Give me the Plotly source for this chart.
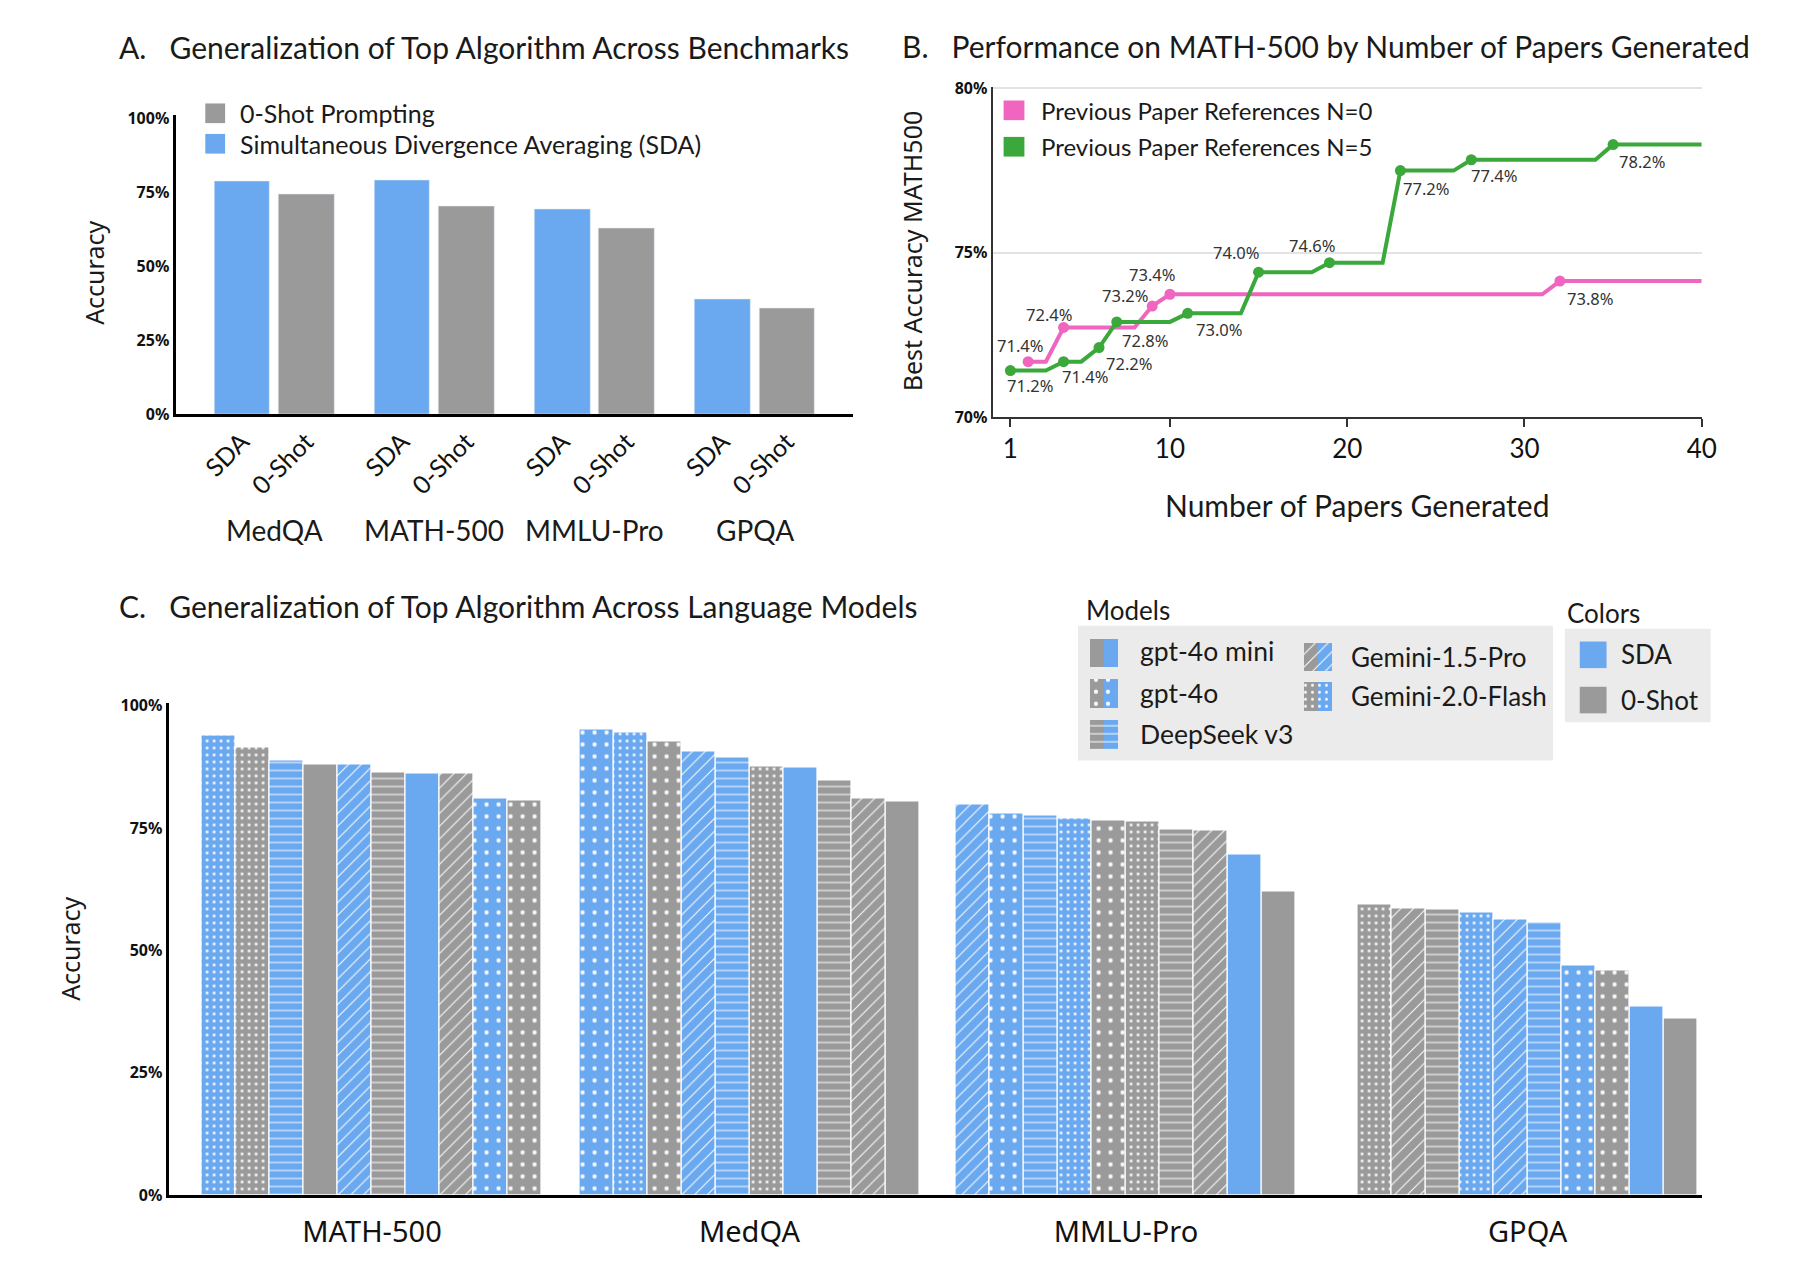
"""Three-panel figure: SDA vs 0-shot across benchmarks, papers generated, and language models."""

import plotly.graph_objects as go

W, H = 1804, 1288

BLUE = "#6aa8ef"
GRAY = "#9a9a9a"
PINK = "#f065bf"
GREEN = "#3aa83a"
MYRIAD = "Lato"
AVENIR = "Noto Sans"

# ---- Panel A: top algorithm across benchmarks
a_benchmarks = ["MedQA", "MATH-500", "MMLU-Pro", "GPQA"]
a_sda = [78.7, 78.9, 69.3, 38.8]
a_zero_shot = [74.4, 70.1, 63.0, 35.7]

# ---- Panel B: best MATH-500 accuracy after n papers
papers = list(range(1, 41))
best_n0 = [None, 71.69, 71.69, 72.73, 72.73, 72.73, 72.73, 72.73, 73.38, 73.74,
           73.74, 73.74, 73.74, 73.74, 73.74, 73.74, 73.74, 73.74, 73.74, 73.74,
           73.74, 73.74, 73.74, 73.74, 73.74, 73.74, 73.74, 73.74, 73.74, 73.74,
           73.74, 74.14, 74.14, 74.14, 74.14, 74.14, 74.14, 74.14, 74.14, 74.14]
best_n5 = [71.42, 71.42, 71.42, 71.69, 71.69, 72.12, 72.90, 72.90, 72.90, 72.90,
           73.16, 73.16, 73.16, 73.16, 74.41, 74.41, 74.41, 74.41, 74.70, 74.70,
           74.70, 74.70, 77.50, 77.50, 77.50, 77.50, 77.83, 77.83, 77.83, 77.83,
           77.83, 77.83, 77.83, 77.83, 78.29, 78.29, 78.29, 78.29, 78.29, 78.29]
labels_n0 = ["71.4%", "72.4%", "73.2%", "73.4%", "73.8%"]
labels_n5 = ["71.2%", "71.4%", "72.2%", "72.8%", "73.0%",
             "74.0%", "74.6%", "77.2%", "77.4%", "78.2%"]

# ---- Panel C: across language models (benchmark order below)
c_benchmarks = ["MATH-500", "MedQA", "MMLU-Pro", "GPQA"]
models = ["gpt-4o mini", "gpt-4o", "DeepSeek v3", "Gemini-1.5-Pro", "Gemini-2.0-Flash"]
sda_gpt4o_mini = [86.2, 87.4, 69.6, 38.6]
sda_gpt4o = [81.0, 95.1, 77.9, 47.0]
sda_deepseek = [88.8, 89.3, 77.5, 55.6]
sda_gemini15 = [87.9, 90.6, 79.7, 56.3]
sda_gemini20 = [93.9, 94.5, 77.0, 57.7]
zero_gpt4o_mini = [88.0, 80.3, 62.0, 36.1]
zero_gpt4o = [80.6, 92.7, 76.6, 45.8]
zero_deepseek = [86.3, 84.7, 74.6, 58.4]
zero_gemini15 = [86.1, 81.1, 74.5, 58.5]
zero_gemini20 = [91.5, 87.5, 76.4, 59.4]


def fx(p):
    return p / W


def fy(p):
    return 1 - p / H


PATTERNS = {
    "gpt-4o mini": dict(shape=""),
    "gpt-4o": dict(shape=".", size=12, solidity=0.1),
    "DeepSeek v3": dict(shape="-", size=8, solidity=0.13),
    "Gemini-1.5-Pro": dict(shape="/", size=9, solidity=0.12),
    "Gemini-2.0-Flash": dict(shape=".", size=7, solidity=0.14),
}


def pattern(model):
    p = dict(PATTERNS[model])
    if p["shape"]:
        p.update(fgcolor="white", fgopacity=0.95, fillmode="overlay")
    return p


fig = go.Figure()
annotations = []
shapes = []

# ---------------- Panel A
a_stride, a_offset = 2.884, 1.16
a_pos_sda = [i * a_stride for i in range(len(a_benchmarks))]
a_pos_zero = [i * a_stride + a_offset for i in range(len(a_benchmarks))]
fig.add_trace(go.Bar(x=a_pos_sda, y=a_sda, width=1, marker_color=BLUE,
                     xaxis="x", yaxis="y", showlegend=False))
fig.add_trace(go.Bar(x=a_pos_zero, y=a_zero_shot, width=1, marker_color=GRAY,
                     xaxis="x", yaxis="y", showlegend=False))

# ---------------- Panel B
for best, color in [(best_n0, PINK), (best_n5, GREEN)]:
    fig.add_trace(go.Scatter(x=papers, y=best, mode="lines", connectgaps=False,
                             line=dict(color=color, width=4),
                             xaxis="x2", yaxis="y2", showlegend=False))

# label offsets (px) from each improvement point
offsets_n0 = [(-8, 16), (-15, 13), (-27, 11), (-18, 20), (30, -17)]
offsets_n5 = [(20, -15), (21, -15), (30, -16), (28, -19), (31, -16),
              (-23, 20), (-17, 17), (26, -18), (23, -16), (29, -17)]

for best, color, labels, offs in [(best_n0, PINK, labels_n0, offsets_n0),
                                  (best_n5, GREEN, labels_n5, offsets_n5)]:
    px_, py_ = [], []
    prev = None
    for n, v in zip(papers, best):
        if v is not None and v != prev:
            px_.append(n)
            py_.append(v)
        prev = v
    fig.add_trace(go.Scatter(x=px_, y=py_, mode="markers",
                             marker=dict(color=color, size=11),
                             xaxis="x2", yaxis="y2", showlegend=False))
    for x, y, lab, (dx, dy) in zip(px_, py_, labels, offs):
        annotations.append(dict(x=x, y=y, xref="x2", yref="y2", text=lab,
                                showarrow=False, xshift=dx, yshift=dy,
                                font=dict(family=AVENIR, size=16.5, color="#333")))

# ---------------- Panel C
sda_vals = [sda_gpt4o_mini, sda_gpt4o, sda_deepseek, sda_gemini15, sda_gemini20]
zero_vals = [zero_gpt4o_mini, zero_gpt4o, zero_deepseek, zero_gemini15, zero_gemini20]
group_left = [0.0, 11.1, 22.17, 33.98]

bars = {}  # (model, method) -> ([x], [y])
for g, bench in enumerate(c_benchmarks):
    entries = []
    for m, model in enumerate(models):
        entries.append((sda_vals[m][g], model, "SDA"))
        entries.append((zero_vals[m][g], model, "0-Shot"))
    entries.sort(key=lambda e: -e[0])
    for rank, (val, model, method) in enumerate(entries):
        xs, ys = bars.setdefault((model, method), ([], []))
        xs.append(group_left[g] + 0.5 + rank)
        ys.append(val)

for (model, method), (xs, ys) in bars.items():
    fig.add_trace(go.Bar(
        x=xs, y=ys, width=1,
        marker=dict(color=BLUE if method == "SDA" else GRAY,
                    line=dict(color="white", width=1.2),
                    pattern=pattern(model)),
        xaxis="x3", yaxis="y3", showlegend=False))

# model legend swatches (half 0-Shot gray, half SDA blue) on a small pixel-unit axis
swatch_slots = {
    "gpt-4o mini": (26, 13), "gpt-4o": (26, 54), "DeepSeek v3": (26, 96),
    "Gemini-1.5-Pro": (242, 17), "Gemini-2.0-Flash": (242, 57),
}
for model, (cx, top) in swatch_slots.items():
    for dx, color in [(-7, GRAY), (7, BLUE)]:
        fig.add_trace(go.Bar(
            x=[cx + dx], y=[29], base=[top], width=14,
            marker=dict(color=color, line=dict(width=0), pattern=pattern(model)),
            xaxis="x4", yaxis="y4", showlegend=False))


# ---------------- shapes & annotations
def rect(x0, y0, x1, y1, color):
    shapes.append(dict(type="rect", xref="paper", yref="paper",
                       x0=fx(x0), x1=fx(x1), y0=fy(y1), y1=fy(y0),
                       fillcolor=color, line=dict(width=0), layer="below"))


def text(x, y, s, size, family=MYRIAD, xanchor="left", angle=0, color="#1a1a1a"):
    annotations.append(dict(x=fx(x), y=fy(y), xref="paper", yref="paper", text=s,
                            showarrow=False, xanchor=xanchor, yanchor="middle",
                            textangle=angle,
                            font=dict(family=family, size=size, color=color)))


sp = "\u00a0\u00a0\u00a0"
text(118, 38, "A." + sp + "Generalization of Top Algorithm Across Benchmarks", 30)
text(908, 37, "B." + sp + "Performance on MATH-500 by Number of Papers Generated", 30)
text(118, 606, "C." + sp + "Generalization of Top Algorithm Across Language Models", 30)

# axis titles
text(94, 267, "Accuracy", 25, AVENIR, "center", -90)
text(920, 245, "Best Accuracy MATH500", 25, AVENIR, "center", -90)
text(1368, 503, "Number of Papers Generated", 30, MYRIAD, "center")
text(71, 954, "Accuracy", 25, AVENIR, "center", -90)

# panel A legend
rect(207, 95, 227, 115, GRAY)
rect(207, 126, 227, 146, BLUE)
text(240, 105, "0-Shot Prompting", 25)
text(240, 136, "Simultaneous Divergence Averaging (SDA)", 25)

# panel A group labels
for i, bench in enumerate(a_benchmarks):
    annotations.append(dict(x=i * a_stride + a_offset / 2, y=fy(529), xref="x", yref="paper",
                            text=bench, showarrow=False, yanchor="middle",
                            font=dict(family=MYRIAD, size=28, color="#1a1a1a")))

# panel B legend
rect(1012, 92, 1033, 112, PINK)
rect(1012, 129, 1033, 149, GREEN)
text(1048, 102, "Previous Paper References N=0", 24)
text(1048, 139, "Previous Paper References N=5", 24)

# panel C legends
rect(1087, 626, 1566, 763, "#ebebeb")
rect(1578, 629, 1725, 724, "#ebebeb")
text(1093, 610, "Models", 26)
text(1578, 613, "Colors", 26)
text(1148, 652, "gpt-4o mini", 26.5)
text(1148, 694, "gpt-4o", 26.5)
text(1148, 736, "DeepSeek v3", 26.5)
text(1360, 658, "Gemini-1.5-Pro", 26)
text(1360, 697, "Gemini-2.0-Flash", 26)
rect(1593, 642, 1620, 669, BLUE)
rect(1593, 688, 1620, 715, GRAY)
text(1633, 655, "SDA", 26)
text(1633, 701, "0-Shot", 26)

pct_ticks = [0, 25, 50, 75, 100]
pct_text = [f"{t}%" for t in pct_ticks]
bold_tick = dict(family=AVENIR, size=16, color="#111", weight="bold")

fig.update_layout(
    width=W, height=H, autosize=False,
    margin=dict(l=0, r=0, t=0, b=0),
    paper_bgcolor="white", plot_bgcolor="rgba(0,0,0,0)",
    barmode="overlay", bargap=0,
    shapes=shapes, annotations=annotations,
    xaxis=dict(domain=[fx(177), fx(860)], range=[-1.196, 11.0], anchor="y",
               tickvals=a_pos_sda + a_pos_zero,
               ticktext=["SDA"] * 4 + ["0-Shot"] * 4, tickangle=-45,
               tickfont=dict(family=MYRIAD, size=25, color="#111"),
               ticklabelstandoff=0,
               showline=True, linecolor="black", linewidth=3,
               showgrid=False, zeroline=False, ticks=""),
    yaxis=dict(domain=[fy(411), fy(107)], range=[0, 101], anchor="x",
               tickvals=pct_ticks, ticktext=pct_text, tickfont=bold_tick,
               showline=True, linecolor="black", linewidth=3,
               showgrid=False, zeroline=False, ticks=""),
    xaxis2=dict(domain=[fx(1001), fx(1716)], range=[0, 40], anchor="y2",
                tickvals=[1, 10, 20, 30, 40],
                tickfont=dict(family=MYRIAD, size=26, color="#111"),
                ticks="outside", ticklen=8, tickwidth=2, tickcolor="#333",
                ticklabelstandoff=0,
                showline=True, linecolor="#333", linewidth=2,
                showgrid=False, zeroline=False),
    yaxis2=dict(domain=[fy(414), fy(78)], range=[70, 80.05], anchor="x2",
                tickvals=[70, 75, 80], ticktext=["70%", "75%", "80%"],
                tickfont=bold_tick,
                showline=True, linecolor="#333", linewidth=2,
                showgrid=True, gridcolor="#e3e3e3", gridwidth=2,
                zeroline=False, ticks=""),
    xaxis3=dict(domain=[fx(170), fx(1716)], range=[-0.98, 44.1], anchor="y3",
                tickvals=[g + 5 for g in group_left], ticktext=c_benchmarks,
                tickfont=dict(family=AVENIR, size=29, color="#111"),
                ticklabelstandoff=9,
                showline=True, linecolor="black", linewidth=3,
                showgrid=False, zeroline=False, ticks=""),
    yaxis3=dict(domain=[fy(1205), fy(704)], range=[0, 100.6], anchor="x3",
                tickvals=pct_ticks, ticktext=pct_text, tickfont=bold_tick,
                showline=True, linecolor="black", linewidth=3,
                showgrid=False, zeroline=False, ticks=""),
    xaxis4=dict(domain=[fx(1087), fx(1566)], range=[0, 479], anchor="y4", visible=False),
    yaxis4=dict(domain=[fy(763), fy(626)], range=[137, 0], anchor="x4", visible=False),
)

# page body has a default 8px margin; drop it so the figure sits at the window origin
fig.write_html("out.html", config={"displayModeBar": False},
               post_script="document.body.style.margin='0px';")
